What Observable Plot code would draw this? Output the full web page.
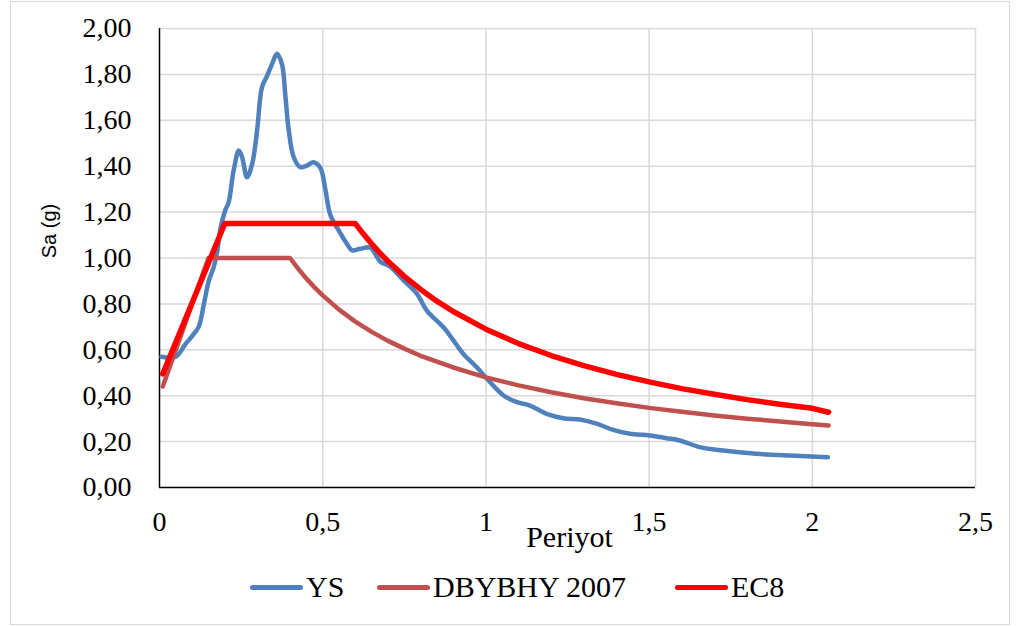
<!DOCTYPE html>
<html>
<head>
<meta charset="utf-8">
<script src="https://cdn.jsdelivr.net/npm/d3@7"></script>
<script src="https://cdn.jsdelivr.net/npm/@observablehq/plot@0.6"></script>
<style>
  html, body { margin: 0; padding: 0; background: #fff; }
  #wrap { position: relative; width: 1017px; height: 627px; overflow: hidden; background: #fff; }
  #frame { position: absolute; left: 10px; top: 1px; width: 1000px; height: 624px; box-sizing: border-box; border: 1px solid #d9d9d9; pointer-events: none; }
  #chart { position: absolute; left: 0; top: 0; }
  #legend { position: absolute; left: 0; top: 569px; width: 1017px; height: 36px;
            font-family: "Liberation Serif", "Times New Roman", serif; font-size: 30px; color: #000; white-space: nowrap; }
  .sw { display: inline-block; width: 53px; height: 5px; border-radius: 3px; margin-right: 3px; }
  .item { position: absolute; top: 0; height: 36px; display: flex; align-items: center; }
</style>
</head>
<body>
<div id="wrap">
  <div id="chart"></div>
  <div id="legend"></div>
  <div id="frame"></div>
</div>
<script>
// ---- Data ----
const seriesNames = ["YS", "DBYBHY 2007", "EC8"];
const seriesColors = ["#4F81BD", "#C0504D", "#FF0000"];

// YS (recorded spectrum)
const ysT  = [0.006, 0.05, 0.08, 0.10, 0.12, 0.136, 0.151, 0.166, 0.177, 0.187, 0.202, 0.212, 0.227, 0.243, 0.253, 0.268, 0.284, 0.299, 0.314, 0.330, 0.345, 0.360, 0.375, 0.386, 0.396, 0.411, 0.431, 0.452, 0.472, 0.493, 0.508, 0.523, 0.549, 0.574, 0.590, 0.615, 0.646, 0.676, 0.707, 0.748, 0.789, 0.819, 0.870, 0.901, 0.931, 0.972, 1.003, 1.054, 1.095, 1.135, 1.186, 1.237, 1.288, 1.339, 1.390, 1.441, 1.502, 1.553, 1.594, 1.655, 1.727, 1.829, 1.931, 2.048];
const ysSa = [0.57, 0.57, 0.626, 0.66, 0.70, 0.80, 0.90, 0.96, 1.03, 1.13, 1.21, 1.243, 1.38, 1.468, 1.44, 1.352, 1.41, 1.556, 1.744, 1.795, 1.846, 1.89, 1.846, 1.70, 1.556, 1.44, 1.396, 1.403, 1.417, 1.392, 1.30, 1.19, 1.12, 1.062, 1.033, 1.04, 1.045, 0.985, 0.962, 0.902, 0.844, 0.771, 0.698, 0.64, 0.582, 0.524, 0.474, 0.401, 0.372, 0.357, 0.321, 0.302, 0.296, 0.278, 0.251, 0.234, 0.227, 0.215, 0.205, 0.176, 0.161, 0.147, 0.139, 0.132];

// DBYBHY 2007 design spectrum
const dbT  = [0.01, 0.15, 0.40, 0.425, 0.45, 0.475, 0.50, 0.55, 0.60, 0.65, 0.70, 0.75, 0.80, 0.90, 1.00, 1.10, 1.20, 1.30, 1.40, 1.50, 1.60, 1.70, 1.80, 1.90, 2.00, 2.05];
const dbSa = [0.44, 1.00, 1.00, 0.953, 0.910, 0.872, 0.837, 0.775, 0.723, 0.678, 0.639, 0.605, 0.574, 0.523, 0.480, 0.445, 0.415, 0.389, 0.367, 0.347, 0.330, 0.314, 0.300, 0.288, 0.276, 0.270];

// EC8 design spectrum
const ecT  = [0.01, 0.20, 0.60, 0.625, 0.65, 0.675, 0.70, 0.75, 0.80, 0.85, 0.90, 1.00, 1.10, 1.20, 1.30, 1.40, 1.50, 1.60, 1.70, 1.80, 1.90, 2.00, 2.05];
const ecSa = [0.495, 1.15, 1.15, 1.104, 1.062, 1.022, 0.986, 0.920, 0.863, 0.812, 0.767, 0.690, 0.627, 0.575, 0.531, 0.493, 0.460, 0.431, 0.406, 0.383, 0.363, 0.345, 0.328];

// Axis ticks
const xTicks = [0, 0.5, 1, 1.5, 2, 2.5];
const yTicks = [0, 0.2, 0.4, 0.6, 0.8, 1.0, 1.2, 1.4, 1.6, 1.8, 2.0];
const xLabel = "Periyot";
const yLabel = "Sa (g)";

// ---- Build tables ----
const ys = ysT.map((t, i) => ({T: t, Sa: ysSa[i]}));
const db = dbT.map((t, i) => ({T: t, Sa: dbSa[i]}));
const ec = ecT.map((t, i) => ({T: t, Sa: ecSa[i]}));

const fmtX = d => String(d).replace(".", ",");
const fmtY = d => d.toFixed(2).replace(".", ",");

const chart = Plot.plot({
  width: 1017,
  height: 565,
  marginLeft: 159,
  marginRight: 42,
  marginTop: 28,
  marginBottom: 78,
  style: {fontFamily: "'Liberation Serif', 'Times New Roman', serif", fontSize: "28px", background: "transparent", color: "#000", overflow: "visible"},
  x: {domain: [0, 2.5], ticks: xTicks, tickFormat: fmtX, tickSize: 0, tickPadding: 24, label: null},
  y: {domain: [0, 2], ticks: yTicks, tickFormat: fmtY, tickSize: 0, tickPadding: 28, label: null},
  marks: [
    Plot.ruleX(xTicks.slice(1), {stroke: "#d9d9d9", strokeWidth: 1.5}),
    Plot.ruleY(yTicks.slice(1), {stroke: "#d9d9d9", strokeWidth: 1.5}),
    Plot.ruleX([0], {stroke: "#000", strokeWidth: 1.5}),
    Plot.ruleY([0], {stroke: "#000", strokeWidth: 1.5}),
    Plot.line(ys, {x: "T", y: "Sa", stroke: seriesColors[0], strokeWidth: 4.5, curve: "catmull-rom", strokeLinecap: "round", strokeLinejoin: "round"}),
    Plot.line(db, {x: "T", y: "Sa", stroke: seriesColors[1], strokeWidth: 4.5, curve: "linear", strokeLinecap: "round", strokeLinejoin: "round"}),
    Plot.line(ec, {x: "T", y: "Sa", stroke: seriesColors[2], strokeWidth: 5.5, curve: "linear", strokeLinecap: "round", strokeLinejoin: "round"}),
    Plot.text([xLabel], {frameAnchor: "bottom", dy: 59, dx: 2, text: d => d, fontSize: 30}),
    Plot.text([yLabel], {frameAnchor: "left", dx: -110, dy: -27, rotate: -90, text: d => d, fontSize: 20, fontFamily: "'Liberation Sans', Arial, sans-serif", textAnchor: "middle"})
  ]
});
document.getElementById("chart").appendChild(chart);

// Legend
const legendLeft = [250, 377, 675];
const legend = document.getElementById("legend");
seriesNames.forEach((name, i) => {
  const item = document.createElement("div");
  item.className = "item";
  item.style.left = legendLeft[i] + "px";
  const sw = document.createElement("span");
  sw.className = "sw";
  sw.style.background = seriesColors[i];
  const lab = document.createElement("span");
  lab.textContent = name;
  item.appendChild(sw);
  item.appendChild(lab);
  legend.appendChild(item);
});
</script>
</body>
</html>
